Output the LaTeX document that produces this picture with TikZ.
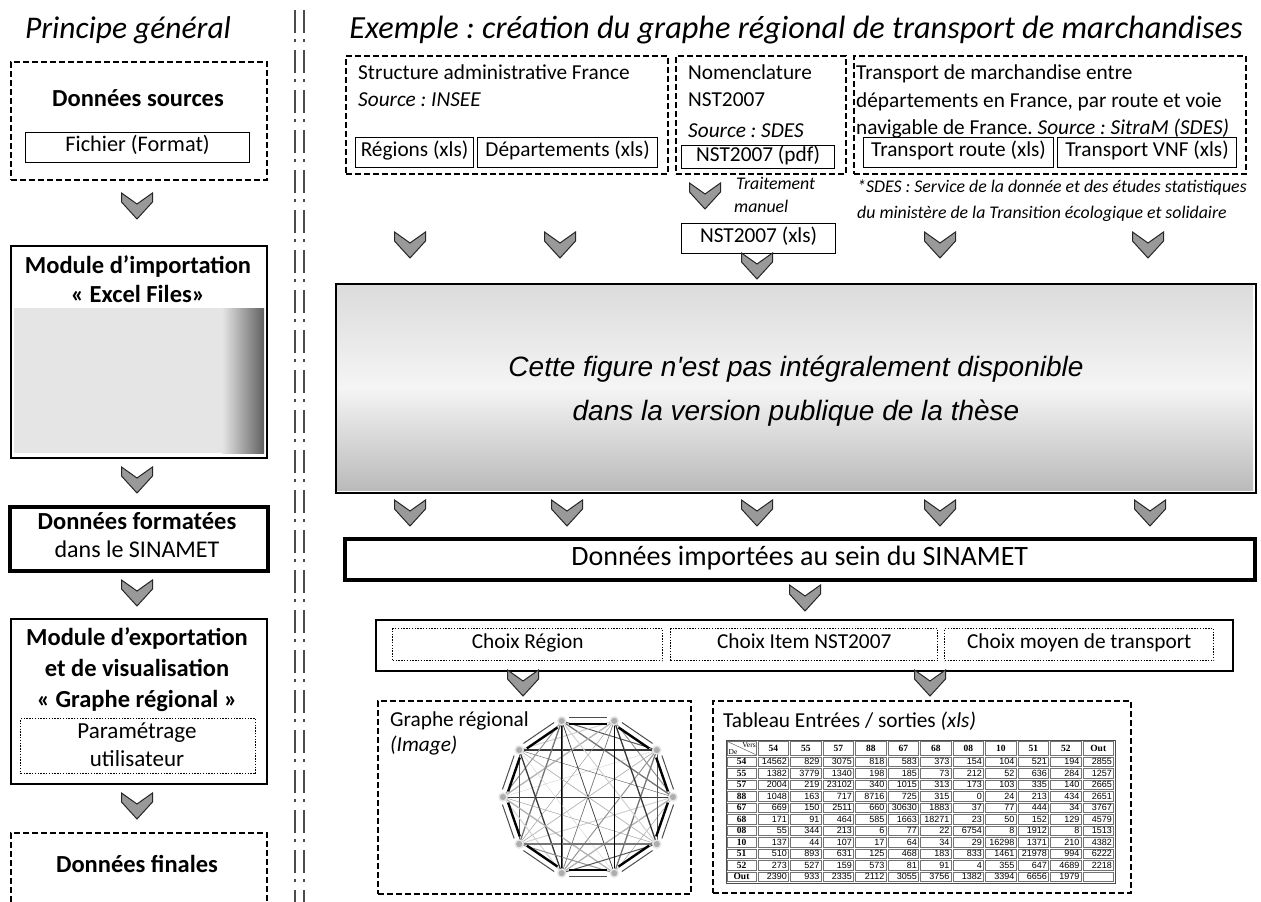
\documentclass[tikz,border=0pt]{standalone}
\usepackage{fontspec}
\setmainfont{Carlito}
\newfontfamily\arialf{Liberation Sans}
\newfontfamily\timesf{Liberation Serif}
\usetikzlibrary{calc}
\frenchspacing
\newcommand\fsz[1]{\fontsize{#1}{#1}\selectfont}
\tikzset{
  fs/.code={\pgfmathsetmacro\fsth{0.64*#1}\pgfmathsetmacro\fstd{0.18*#1}%
    \edef\fstmp{\noexpand\tikzset{inner sep=0pt, text height=\fsth pt, text depth=\fstd pt}}\fstmp},
  dashbox/.style={draw, line width=1.8pt, dash pattern=on 6pt off 3pt, anchor=north west, inner sep=0pt},
  dotbox/.style={draw, line width=1.4pt, dash pattern=on 1.4pt off 1.4pt, anchor=north west, inner sep=0pt},
  solidbox/.style={draw, line width=2pt, anchor=north west, inner sep=0pt},
  thickbox/.style={draw, line width=3.5pt, anchor=north west, inner sep=0pt},
  filebox/.style={draw, line width=1.2pt, fill=white, anchor=north west, inner sep=0pt},
  txt/.style={fs=21.3, font=\fsz{21.3}},
  ltxt/.style={fs=21.3, anchor=west, font=\fsz{21.3}},
  ltxti/.style={fs=21.3, anchor=west, font=\fsz{21.3}\itshape},
  lrtxt/.style={fs=23, font=\fsz{23}},
  btxt/.style={fs=24.5, font=\fsz{24.5}\bfseries},
  smi/.style={fs=17.8, anchor=west, font=\fsz{17.8}\itshape},
  chev/.pic={\filldraw[fill=black!40, draw=black!85, line width=1pt]
     (-15.5,0) -- (0,11) -- (15.5,0) -- (15.5,9) -- (0,26) -- (-15.5,9) -- cycle;},
  gnode/.style={circle, fill=black!32, draw=black!10, line width=1.5pt, inner sep=0pt, minimum size=8pt},
  tnum/.style={inner sep=0pt, anchor=east, font=\arialf\fsz{9}},
  thead/.style={inner sep=0pt, font=\timesf\bfseries\fsz{9.5}},
}
\begin{document}
\begin{tikzpicture}[x=1pt,y=-1pt]
\useasboundingbox (0,0) rectangle (1261,902);
\clip (0,0) rectangle (1261,902);
\fill[white] (0,0) rectangle (1261,902);

% ---------- titles ----------
\node[fs=31.5, font=\fsz{31.5}\itshape] (t1) at (128,31) {Principe général};
\node[fs=32.3, font=\fsz{32.3}\itshape] (t2) at (796,31) {Exemple : création du graphe régional de transport de marchandises};

% ---------- separator ----------
\draw[black!70, line width=2pt, dash pattern=on 23pt off 6pt on 2.5pt off 8.5pt] (295,10) -- (295,902);
\draw[black!70, line width=2pt, dash pattern=on 23pt off 6pt on 2.5pt off 8.5pt] (304,10) -- (304,902);

% ---------- left column ----------
\node[dashbox, minimum width=256pt, minimum height=118pt] (src) at (10,61) {};
\node[btxt] (srct) at (138,101) {Données sources};
\node[filebox, minimum width=224pt, minimum height=30pt] (file) at (25,132) {};
\node[fs=22.3, font=\fsz{22.3}] (filet) at ([yshift=1pt]file.center) {Fichier (Format)};
\pic at (137,193) {chev};

\node[solidbox, minimum width=256pt, minimum height=212pt] (imp) at (10,245) {};
\fill[black!10] (14,308) rectangle (222,453);
\shade[left color=black!10, right color=black!62] (222,308) rectangle (264,453);
\node[btxt] (impt1) at (138,268) {Module d’importation};
\node[btxt] (impt2) at (138,297) {« Excel Files»};
\pic at (137,467) {chev};

\node[thickbox, minimum width=258pt, minimum height=64pt] (fmt) at (8,505) {};
\node[btxt] (fmtt1) at (137,524) {Données formatées};
\node[fs=24, font=\fsz{24}] (fmtt2) at (137,552) {dans le SINAMET};
\pic at (137,580) {chev};

\node[solidbox, minimum width=256pt, minimum height=165pt] (exp) at (10,618) {};
\node[btxt] (expt1) at (137,640) {Module d’exportation};
\node[btxt] (expt2) at (137,671) {et de visualisation};
\node[btxt] (expt3) at (137,702) {« Graphe régional »};
\node[dotbox, minimum width=235pt, minimum height=55pt] (param) at (20,718) {};
\node[lrtxt] (paramt1) at (137,733) {Paramétrage};
\node[lrtxt] (paramt2) at (137,761) {utilisateur};
\pic at (137,793) {chev};

\node[dashbox, minimum width=256pt, minimum height=100pt] (fin) at (10,832) {};
\node[btxt] (fint) at (137,867) {Données finales};

% ---------- top sources ----------
\node[dashbox, minimum width=322pt, minimum height=118pt] (b1) at (345,55) {};
\node[ltxt] (b1a) at (358,75) {Structure administrative France};
\node[ltxti] (b1b) at (358,102) {Source : INSEE};
\node[filebox, minimum width=118pt, minimum height=30pt] (reg) at (355,137) {};
\node[txt] (regt) at ([yshift=1pt]reg.center) {Régions (xls)};
\node[filebox, minimum width=180pt, minimum height=30pt] (dep) at (477,137) {};
\node[txt] (dept) at ([yshift=1pt]dep.center) {Départements (xls)};

\node[dashbox, minimum width=170pt, minimum height=118pt] (b2) at (675,55) {};
\node[ltxt] (b2a) at (688,75) {Nomenclature};
\node[ltxt] (b2b) at (688,102) {NST2007};
\node[ltxti] (b2c) at (688,133) {Source : SDES};
\node[filebox, minimum width=153pt, minimum height=23pt] (pdf) at (681,145) {};
\node[txt] (pdft) at ([yshift=1pt]pdf.center) {NST2007 (pdf)};

\node[dashbox, minimum width=392pt, minimum height=118pt] (b3) at (853,55) {};
\node[ltxt] (b3a) at (856,75) {Transport de marchandise entre};
\node[ltxt] (b3b) at (856,103) {départements en France, par route et voie};
\node[ltxt] (b3c) at (856,130) {navigable de France. \textit{Source : SitraM (SDES)}};
\node[filebox, minimum width=190pt, minimum height=30pt] (route) at (863,137) {};
\node[txt] (routet) at ([yshift=1pt]route.center) {Transport route (xls)};
\node[filebox, minimum width=179pt, minimum height=30pt] (vnf) at (1057,137) {};
\node[txt] (vnft) at ([yshift=1pt]vnf.center) {Transport VNF (xls)};

\node[smi] (foot1) at (857,188) {*SDES : Service de la donnée et des études statistiques};
\node[smi] (foot2) at (857,214) {du ministère de la Transition écologique et solidaire};

\pic at (705,183) {chev};
\node[smi] (trt1) at (736,185) {Traitement};
\node[smi] (trt2) at (734,208) {manuel};
\node[filebox, minimum width=154pt, minimum height=30pt] (xls) at (681,223) {};
\node[txt] (xlst) at ([yshift=1pt]xls.center) {NST2007 (xls)};

\foreach \cx in {410,560,940,1148} \pic at (\cx,232) {chev};
\pic at (757,253) {chev};

% ---------- hidden module ----------
\node[solidbox, minimum width=920pt, minimum height=209pt] (big) at (335,283) {};
\shade[top color=black!14, bottom color=black!27, middle color=black!4] (337,285) rectangle (1253,490);
\node[fs=28, font=\arialf\itshape\fsz{28}] (bigt1) at (796,370) {Cette figure n'est pas intégralement disponible};
\node[fs=28, font=\arialf\itshape\fsz{28}] (bigt2) at (796,414) {dans la version publique de la thèse};

\foreach \cx in {410,567,757,940,1150} \pic at (\cx,500) {chev};

\node[thickbox, minimum width=910pt, minimum height=41pt] (sin) at (343,537) {};
\node[fs=28, font=\fsz{28}] (sint) at (sin.center) {Données importées au sein du SINAMET};
\pic at (805,585) {chev};

% ---------- choices ----------
\node[solidbox, minimum width=857pt, minimum height=51pt] (ch) at (375,619) {};
\node[dotbox, minimum width=270pt, minimum height=32pt] (ch1) at (392,628) {};
\node[txt] (ch1t) at ([yshift=1pt]ch1.center) {Choix Région};
\node[dotbox, minimum width=267pt, minimum height=32pt] (ch2) at (670,628) {};
\node[txt] (ch2t) at ([yshift=1pt]ch2.center) {Choix Item NST2007};
\node[dotbox, minimum width=269pt, minimum height=32pt] (ch3) at (944,628) {};
\node[txt] (ch3t) at ([yshift=1pt]ch3.center) {Choix moyen de transport};
\pic at (523,670) {chev};
\pic at (930,670) {chev};

% ---------- regional graph ----------
\node[dashbox, minimum width=313pt, minimum height=193pt] (gb) at (377,700) {};
\node[ltxt] (gbt1) at (390,722) {Graphe régional};
\node[ltxti] (gbt2) at (390,747) {(Image)};
\foreach \i in {0,...,9}
  \coordinate (g\i) at ({588+85*cos(\i*36)},{797-80*sin(\i*36)});
\foreach \i in {0,...,8}{
  \foreach \j in {\i,...,9}{
    \pgfmathtruncatemacro\d{\j-\i}
    \ifnum\d>1 \ifnum\d<9
      \pgfmathtruncatemacro\sh{18+12*mod(\i*7+\j*13,6)}
      \pgfmathsetmacro\lw{0.4+0.3*mod(\i*3+\j*5,4)}
      \draw[black!\sh, line width=\lw pt] (g\i) -- (g\j);
    \fi\fi
  }
}
\draw[black, line width=1.5pt] (g2) -- (g8);
\draw[black, line width=1.5pt] (g3) -- (g7);
\foreach \i [evaluate=\i as \j using {int(mod(\i+1,10))}] in {0,...,9}{
  \draw[black, line width=2.4pt] ($(g\i)!0.14!(g\j)!3pt!90:(g\j)$) -- ($(g\j)!0.14!(g\i)!-3pt!90:(g\i)$);
  \draw[black!70, line width=1pt] ($(g\i)!0.14!(g\j)!-3pt!90:(g\j)$) -- ($(g\j)!0.14!(g\i)!3pt!90:(g\i)$);
}
\foreach \i in {0,...,9}
  \node[gnode] (gn\i) at (g\i) {};

% ---------- table ----------
\node[dashbox, minimum width=418pt, minimum height=192pt] (tb) at (712,700) {};
\node[ltxt] (tbt) at (723,723) {Tableau Entrées / sorties \textit{(xls)}};
\draw[black!70, line width=0.8pt] (726,740) rectangle (1115,883);
\foreach \c in {0,...,11}{
  \foreach \r in {0,...,11}{
    \pgfmathsetmacro\xl{\c==0 ? 726 : 757+(\c-1)*32.5}
    \pgfmathsetmacro\xr{\c==0 ? 757 : 757+\c*32.5}
    \pgfmathsetmacro\yt{\r==0 ? 740 : 756+(\r-1)*11.5}
    \pgfmathsetmacro\yb{\r==0 ? 756 : 756+\r*11.5}
    \draw[black!55, line width=0.5pt] (\xl+1.2,\yt+1.2) rectangle (\xr-1.2,\yb-1.2);
  }
}
\draw[black!60, line width=0.5pt] (727.5,741.5) -- (755.5,754.5);
\node[inner sep=0pt, font=\timesf\fsz{7.5}] (tvers) at (749,745) {Vers};
\node[inner sep=0pt, font=\timesf\fsz{7.5}] (tde) at (733,752) {De};
\foreach \h [count=\c] in {54,55,57,88,67,68,08,10,51,52,Out}
  \node[thead] (th\c) at ({757+(\c-0.5)*32.5},748) {\h};
\foreach \r/\row in {
 1/{54,14562,829,3075,818,583,373,154,104,521,194,2855},
 2/{55,1382,3779,1340,198,185,73,212,52,636,284,1257},
 3/{57,2004,219,23102,340,1015,313,173,103,335,140,2665},
 4/{88,1048,163,717,8716,725,315,0,24,213,434,2651},
 5/{67,669,150,2511,660,30630,1883,37,77,444,34,3767},
 6/{68,171,91,464,585,1663,18271,23,50,152,129,4579},
 7/{08,55,344,213,6,77,22,6754,8,1912,8,1513},
 8/{10,137,44,107,17,64,34,29,16298,1371,210,4382},
 9/{51,510,893,631,125,468,183,833,1461,21978,994,6222},
 10/{52,273,527,159,573,81,91,4,355,647,4689,2218},
 11/{Out,2390,933,2335,2112,3055,3756,1382,3394,6656,1979}}{
  \foreach \v [count=\c from 0] in \row {
    \ifnum\c=0
      \node[thead] (tc\r-\c) at (741.5,{756+(\r-0.5)*11.5}) {\v};
    \else
      \node[tnum] (tc\r-\c) at ({757+\c*32.5-2.5},{756+(\r-0.5)*11.5}) {\v};
    \fi
  }
}
\end{tikzpicture}
\end{document}
